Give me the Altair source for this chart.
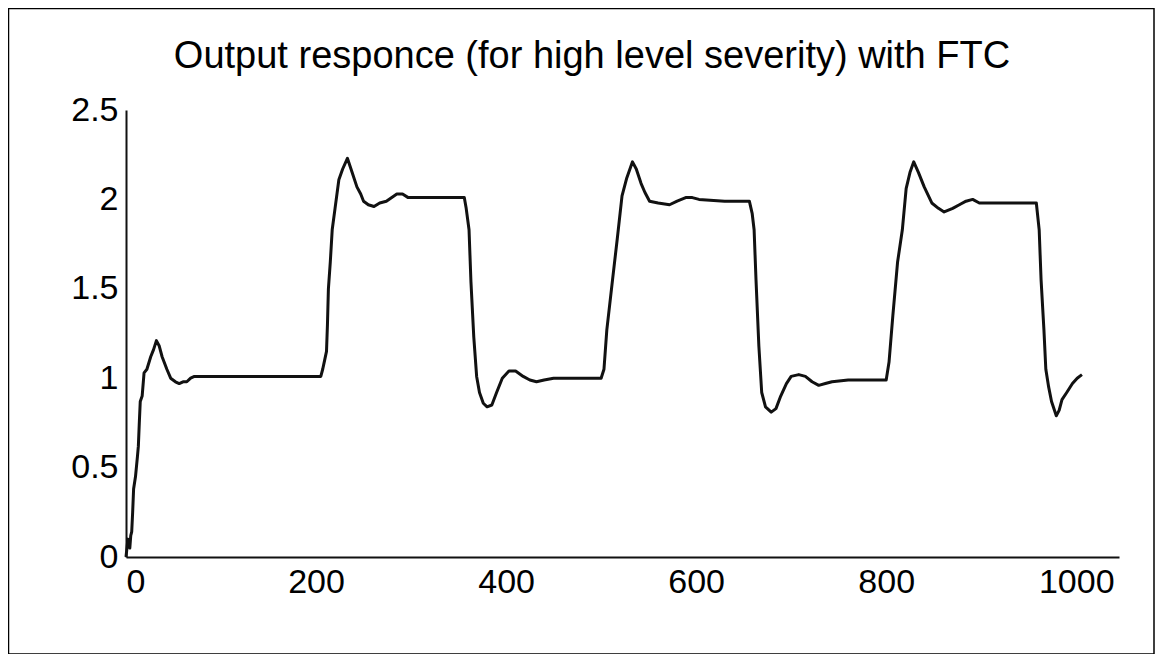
import altair as alt
import pandas as pd

# time samples and output values
t = [0, 2, 4, 5, 6, 7, 8, 10, 12, 13, 14, 15, 17, 19, 22, 26, 29, 32, 35, 38, 43, 47, 52, 56, 60, 64, 68, 72,
     205, 207, 209, 211, 212, 213, 215, 217, 220, 224, 228, 233, 238, 243, 247, 250, 255, 261, 267, 274, 285, 291, 297, 320, 356,
     358, 361, 363, 366, 369, 372, 376, 380, 385, 390, 396, 403, 410, 418, 425, 432, 440, 450, 500,
     503, 506, 512, 517, 522, 527, 533, 537, 542, 546, 551, 560, 572, 580, 589, 596, 603, 630, 656,
     659, 661, 663, 666, 669, 673, 679, 684, 689, 695, 700, 708, 715, 722, 729, 736, 743, 760, 800,
     803, 807, 812, 817, 821, 825, 829, 834, 840, 848, 855, 861, 870, 877, 884, 891, 898, 930, 958,
     961, 963, 966, 968, 971, 974, 979, 982, 985, 990, 996, 1001, 1006]
y = [0.0, 0.1, 0.05, 0.12, 0.14, 0.25, 0.38, 0.45, 0.56, 0.62, 0.75, 0.87, 0.9, 1.03, 1.05, 1.12, 1.16, 1.21, 1.18, 1.12, 1.05, 1.0, 0.98, 0.97, 0.98, 0.98, 1.0, 1.01,
     1.01, 1.05, 1.1, 1.15, 1.3, 1.5, 1.65, 1.83, 1.95, 2.11, 2.17, 2.23, 2.15, 2.07, 2.03, 1.99, 1.97, 1.96, 1.98, 1.99, 2.03, 2.03, 2.01, 2.01, 2.01,
     1.95, 1.83, 1.54, 1.23, 1.01, 0.92, 0.86, 0.84, 0.85, 0.92, 1.0, 1.04, 1.04, 1.01, 0.99, 0.98, 0.99, 1.0, 1.0,
     1.05, 1.27, 1.55, 1.78, 2.02, 2.12, 2.21, 2.17, 2.09, 2.04, 1.99, 1.98, 1.97, 1.99, 2.01, 2.01, 2.0, 1.99, 1.99,
     1.92, 1.83, 1.55, 1.18, 0.92, 0.84, 0.81, 0.83, 0.9, 0.97, 1.01, 1.02, 1.01, 0.98, 0.96, 0.97, 0.98, 0.99, 0.99,
     1.09, 1.35, 1.65, 1.83, 2.06, 2.15, 2.21, 2.15, 2.07, 1.98, 1.95, 1.93, 1.95, 1.97, 1.99, 2.0, 1.98, 1.98, 1.98,
     1.83, 1.55, 1.27, 1.05, 0.95, 0.87, 0.79, 0.82, 0.88, 0.92, 0.97, 1.0, 1.02]

x_ticks = [0, 200, 400, 600, 800, 1000]
y_ticks = [0, 0.5, 1, 1.5, 2, 2.5]
title_text = ["Output responce (for high level severity) with FTC"]

df = pd.DataFrame({"t": t, "y": y})
frame_df = pd.DataFrame({"k": [0]})
title_df = pd.DataFrame({"label": title_text})

FONT = "Liberation Sans"

line = alt.Chart(df).mark_line(color="#111111", strokeWidth=3, strokeJoin="round").encode(
    x=alt.X("t:Q", scale=alt.Scale(domain=[0, 1045], nice=False, zero=False),
            axis=alt.Axis(values=x_ticks, format="d", title=None)),
    y=alt.Y("y:Q", scale=alt.Scale(domain=[0, 2.5], nice=False),
            axis=alt.Axis(values=y_ticks, format="~g", title=None)),
)

border = alt.Chart(frame_df).mark_rect(fill=None, stroke="black", strokeWidth=1.5).encode(
    x=alt.value(-117.5), x2=alt.value(1028), y=alt.value(-101.5), y2=alt.value(544)
)

title = alt.Chart(title_df).mark_text(
    font=FONT, fontSize=38, color="black", align="center", baseline="middle"
).encode(x=alt.value(466), y=alt.value(-53), text="label:N")

chart = alt.layer(border, title, line).properties(
    width=993, height=447,
    padding={"left": 118, "top": 102, "right": 37, "bottom": 97},
    autosize=alt.AutoSizeParams(type="none"),
).configure_view(stroke=None).configure_axis(
    domainColor="#111111", domainWidth=2, ticks=False, grid=False,
    labelFont=FONT, labelFontSize=34, labelColor="black", labelPadding=8,
).configure_axisY(labelBaseline="middle")

chart.save("out.html", embed_options={"renderer": "svg", "actions": False})
